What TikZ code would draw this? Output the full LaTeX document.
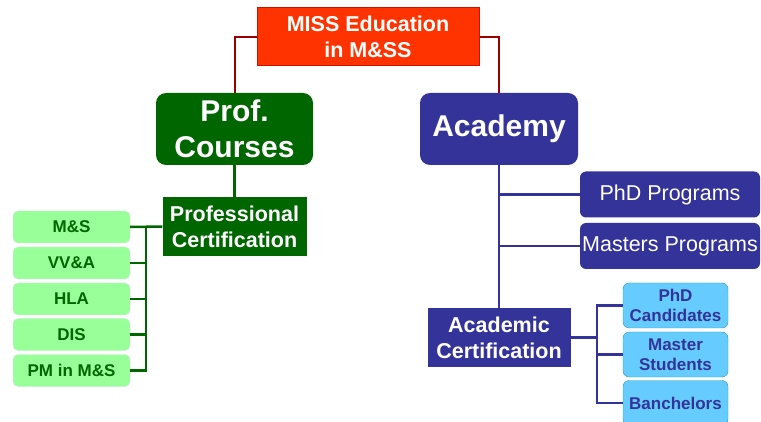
\documentclass[tikz,border=0pt]{standalone}
\usepackage{fontspec}
\setmainfont{Liberation Sans}
\definecolor{missred}{HTML}{FF3300}
\definecolor{missborder}{HTML}{CC1100}
\definecolor{missline}{HTML}{990000}
\definecolor{profgreen}{HTML}{006600}
\definecolor{leafgreen}{HTML}{99FF99}
\definecolor{leafgreenline}{HTML}{CCEEDD}
\definecolor{acadblue}{HTML}{333399}
\definecolor{leafblue}{HTML}{66CCFF}
\definecolor{leafblueline}{HTML}{22A0A0}
\begin{document}
\begin{tikzpicture}[x=1pt,y=-1pt,
    box/.style={inner sep=0pt, align=center, text=white},
    bigfont/.style={font=\fontsize{30}{36}\selectfont\bfseries},
    midfont/.style={font=\fontsize{21.5}{26}\selectfont\bfseries},
    leafg/.style={box, rounded corners=5pt, draw=leafgreenline, fill=leafgreen, text=profgreen,
        minimum width=117pt, minimum height=32pt, font=\fontsize{17}{20}\selectfont\bfseries},
    leafb/.style={box, rounded corners=6pt, draw=leafblueline, fill=leafblue, text=acadblue,
        minimum width=105pt, minimum height=45pt, font=\fontsize{17}{20}\selectfont\bfseries},
    prog/.style={box, rounded corners=6pt, fill=acadblue, minimum width=180pt, minimum height=46pt,
        font=\fontsize{21.5}{26}\selectfont},
    gline/.style={draw=profgreen, line width=2.5pt},
    bline/.style={draw=acadblue, line width=2.8pt}]
            \useasboundingbox (0,0) rectangle (761,422);

            \node[box, midfont, fill=missred, draw=missborder, line width=1pt, minimum width=222pt, minimum height=58pt] (miss) at (368,37) {MISS Education\\in M\&SS};

            \node[box, bigfont, rounded corners=10pt, fill=profgreen, minimum width=157pt, minimum height=72pt] (prof) at (234.5,129) {Prof.\\Courses};
            \node[box, bigfont, rounded corners=10pt, fill=acadblue, minimum width=158pt, minimum height=72pt] (acad) at (499,129) {Academy};

            \node[box, midfont, fill=profgreen, minimum width=144pt, minimum height=59pt] (profcert) at (234.5,226.5) {Professional\\Certification};
            \node[box, midfont, fill=acadblue, minimum width=143pt, minimum height=59pt] (acadcert) at (499,337.5) {Academic\\Certification};

            \node[leafg] (ms) at (71.5,227) {M\&S};
            \node[leafg] (vva) at (71.5,263) {VV\&A};
            \node[leafg] (hla) at (71.5,299) {HLA};
            \node[leafg] (dis) at (71.5,334.5) {DIS};
            \node[leafg] (pm) at (71.5,370.5) {PM in M\&S};

            \node[prog] (phdprog) at (670,194.5) {PhD Programs};
            \node[prog] (mastprog) at (670,246) {Masters Programs};

            \node[leafb] (phdc) at (675.5,305.5) {PhD\\Candidates};
            \node[leafb] (mast) at (675.5,354.5) {Master\\Students};
            \node[leafb] (bach) at (675.5,403) {Banchelors};

            \coordinate (gbus) at (146,227);
            \coordinate (bbus) at (597,337.5);

            \draw[missline, line width=2pt] (miss.west) -| (prof.north); \draw[missline, line width=2pt] (miss.east) -| (acad.north);

            \draw[gline] (prof.south) -- (profcert.north); \draw[gline] (profcert.west) -- (ms.east);
            \draw[gline] (pm.east) -| (gbus); \draw[gline] (vva.east) -- (vva.east -| gbus);
            \draw[gline] (hla.east) -- (hla.east -| gbus); \draw[gline] (dis.east) -- (dis.east -| gbus);

            \draw[bline] (acad.south) -- (acadcert.north); \draw[bline] (phdprog.west) -- (phdprog.west -| acad.south);
            \draw[bline] (mastprog.west) -- (mastprog.west -| acad.south);
            \draw[bline] (acadcert.east) -- (bbus); \draw[bline] (phdc.west) -| (bbus); \draw[bline] (bach.west) -| (bbus);
            \draw[bline] (mast.west) -- (mast.west -| bbus);
        \end{tikzpicture}
\end{document}
